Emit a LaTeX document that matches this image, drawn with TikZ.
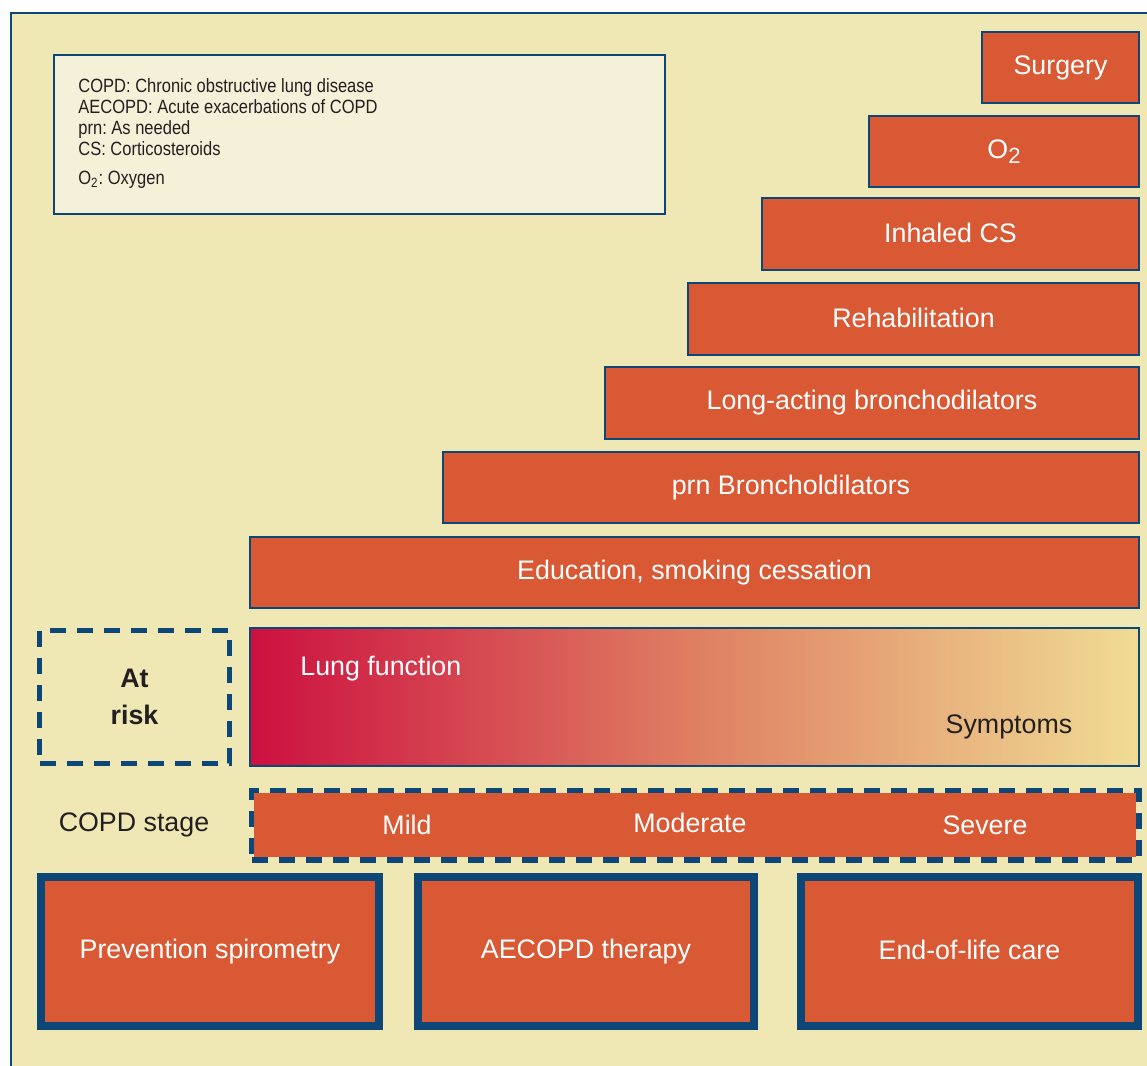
\documentclass[tikz,border=0pt]{standalone}
\usepackage{fontspec}
\setmainfont{Liberation Sans}
\newfontfamily\condfont[FakeStretch=0.86]{Liberation Sans}
\frenchspacing
\definecolor{cream}{HTML}{EFE7B4}
\definecolor{legfill}{HTML}{F5F0D8}
\definecolor{navy}{HTML}{0D4777}
\definecolor{orng}{HTML}{DA5935}
\definecolor{ink}{HTML}{231F20}
\definecolor{crim}{HTML}{CC1040}
\definecolor{pale}{HTML}{F0DC94}
\definecolor{midg}{HTML}{DF7F62}
\tikzset{
  bar/.style={draw=navy, line width=1pt, fill=orng, text=white, font=\fontsize{13.4}{16}\selectfont, inner sep=0pt},
  bigbox/.style={draw=navy, line width=4pt, fill=orng, text=white, font=\fontsize{13.4}{16}\selectfont, inner sep=0pt},
  dashbox/.style={draw=navy, line width=2.6pt, dash pattern=on 8pt off 5.5pt},
  lbl/.style={text=ink, font=\fontsize{13.4}{16}\selectfont, inner sep=0pt},
  wlbl/.style={text=white, font=\fontsize{13.4}{16}\selectfont, inner sep=0pt}
}
\begin{document}
\begin{tikzpicture}[x=0.5pt, y=-0.5pt]
\useasboundingbox (0,0) rectangle (1147,1066);
\clip (0,0) rectangle (1147,1066);
\fill[white] (0,0) rectangle (1147,1066);
% outer frame
\draw[navy, line width=1pt, fill=cream] (11,13) rectangle (1160,1080);
% legend
\node[draw=navy, line width=1pt, fill=legfill, minimum width=305.5pt, minimum height=79.5pt, inner sep=0pt] (legend) at (359.5,134.5) {};
\node[anchor=north west, align=left, text=ink, font=\condfont\fontsize{9.6}{10.5}\selectfont, inner sep=0pt] (legtext) at (78,78)
 {COPD: Chronic obstructive lung disease\\
  AECOPD: Acute exacerbations of COPD\\
  prn: As needed\\
  CS: Corticosteroids\\[4pt]
  O\textsubscript{2}: Oxygen};
% staircase bars
\node[bar, minimum width=78.5pt, minimum height=35.5pt] (surg) at (1060.5,67.5) {\raisebox{-0.15ex}{Surgery}};
\node[bar, minimum width=135pt, minimum height=35.5pt] (oxy) at (1004,151.5) {O\raisebox{-0.35ex}{\fontsize{11}{13}\selectfont 2}};
\node[bar, minimum width=188.5pt, minimum height=36pt] (ics) at (950.5,234) {\raisebox{0.15ex}{Inhaled CS}};
\node[bar, minimum width=225.5pt, minimum height=36pt] (rehab) at (913.5,319) {\raisebox{0.15ex}{Rehabilitation}};
\node[bar, minimum width=267pt, minimum height=36pt] (laba) at (872,403) {Long-acting bronchodilators};
\node[bar, minimum width=348pt, minimum height=35.5pt] (prn) at (791,487.5) {prn Broncholdilators};
\node[bar, minimum width=444.5pt, minimum height=35.5pt] (edu) at (694.5,572.5) {Education, smoking cessation};
% gradient box
\node[draw=navy, line width=1pt, left color=crim, right color=pale, middle color=midg, minimum width=444.5pt, minimum height=69pt, inner sep=0pt] (grad) at (694.5,697) {};
\node[wlbl, anchor=west] (lung) at (300,669) {Lung function};
\node[lbl] (symp) at (1009,727) {Symptoms};
% at risk
\node[dashbox, minimum width=94.9pt, minimum height=66.4pt, align=center, text=ink, font=\bfseries\fontsize{13.4}{18.5}\selectfont, inner sep=0pt] (risk) at (134.5,697) {At\\risk};
% COPD stage
\node[lbl] (stagelbl) at (134,825) {COPD stage};
\node[dashbox, line width=3pt, minimum width=443.5pt, minimum height=34.5pt, inner sep=0pt] (stage) at (695.5,825) {};
\fill[orng] (254,793) rectangle (1136,857);
\node[wlbl] (mild) at (407,825) {Mild};
\node[wlbl] (mod) at (690,823) {Moderate};
\node[wlbl] (sev) at (985,825) {Severe};
% bottom boxes
\node[bigbox, minimum width=169pt, minimum height=74.5pt] (prev) at (210,951.5) {Prevention spirometry};
\node[bigbox, minimum width=168pt, minimum height=74.5pt] (aecopd) at (586,951.5) {\raisebox{0.3ex}{AECOPD therapy}};
\node[bigbox, minimum width=168.5pt, minimum height=74.5pt] (eol) at (969.5,951.5) {\raisebox{0.3ex}{End-of-life care}};
\end{tikzpicture}
\end{document}
